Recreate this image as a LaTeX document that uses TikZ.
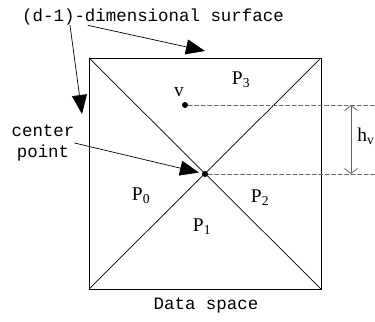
\documentclass[tikz,border=0pt]{standalone}
\usepackage{fontspec}
\setmainfont{Liberation Serif}
\setmonofont{Liberation Mono}
\usetikzlibrary{arrows.meta,calc}

\begin{document}
\begin{tikzpicture}[
		x=1bp, y=-1bp,
		line cap=round, line join=round,
		ptr/.style={-{Triangle[length=19bp,width=15bp]}, line width=0.7bp},
		lbl/.style={font=\ttfamily\fontsize{17.5}{22}\selectfont, inner sep=0pt},
		part/.style={font=\fontsize{19.5}{22}\selectfont, inner sep=0pt},
		guide/.style={black!60, dash pattern=on 4bp off 2.5bp, line width=0.9bp},
		dot/.style={circle, fill=black, inner sep=0pt, minimum size=6bp}
		]
		\useasboundingbox (0,0) rectangle (375,322);
		
		% ---------- Data space (square and diagonals) ----------
		\coordinate (NW) at (89,58);
		\coordinate (NE) at (321,58);
		\coordinate (SW) at (89,289);
		\coordinate (SE) at (321,289);
		\draw[line width=0.8bp] (NW) rectangle (SE);
		\draw[line width=0.7bp] (SW) -- (NE);
		\draw[line width=0.7bp] (NW) -- (SE);
		
		% ---------- Points ----------
		\node[dot] (ctr) at (205,174) {};
		\node[dot] (v) at (185,105) {};
		\node[part] (vlab) at (179,92) {v};
		
		% ---------- Partitions ----------
		\node[part] (P0) at (141,196) {P\textsubscript{0}};
		\node[part] (P1) at (202,227) {P\textsubscript{1}};
		\node[part] (P2) at (260,198) {P\textsubscript{2}};
		\node[part] (P3) at (241,80) {P\textsubscript{3}};
		
		% ---------- Height h_v (dashed guides) ----------
		\coordinate (vEnd) at (376,105);
		\coordinate (cEnd) at (376,174);
		\draw[guide] (v) -- (vEnd);
		\draw[guide] (ctr) -- (cEnd);
		\coordinate (hvTop) at (351,105);
		\coordinate (hvBot) at (351,174);
		\draw[black!60, line width=0.8bp, {Straight Barb[length=5bp,width=13bp]}-{Straight Barb[length=5bp,width=13bp]}] (hvTop) -- (hvBot);
		\node[part] (hv) at (366,136) {h\textsubscript{v}};
		
		% ---------- Labels and pointers ----------
		\node[lbl] (surf) at (153,17) {(d-1)-dimensional surface};
		\coordinate (topTip) at (205,51);
		\coordinate (leftTip) at (82,114);
		\draw[ptr] ([xshift=-65bp]surf.south) -- (topTip);
		\draw[ptr] ([xshift=-83bp]surf.south) -- (leftTip);
		
		\node[lbl, align=center] (cp) at (43,143) {center\\point};
		\draw[ptr, shorten >=3bp] (cp.east) -- (ctr);
		
		\node[lbl] (ds) at (206,305) {Data space};
		
	\end{tikzpicture}
\end{document}
